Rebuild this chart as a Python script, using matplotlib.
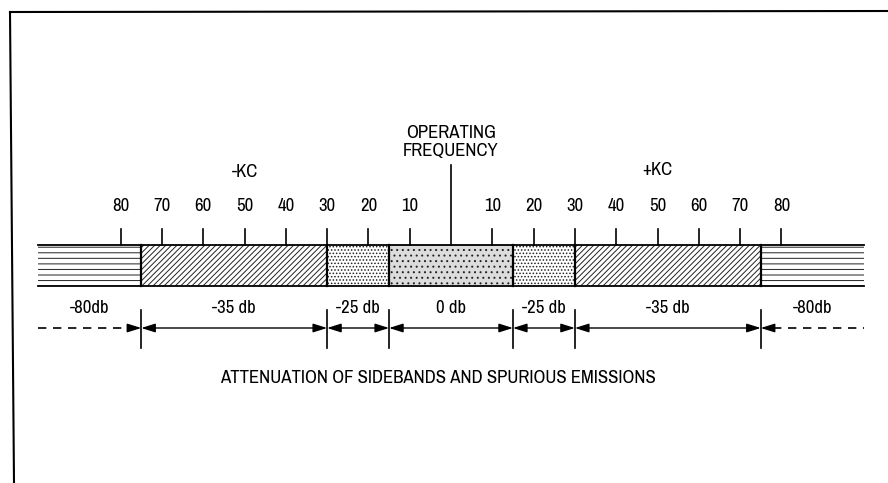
import matplotlib.pyplot as plt
from matplotlib.font_manager import fontManager

# data (kc from the operating frequency)
tick_kc = [-80, -70, -60, -50, -40, -30, -20, -10, 10, 20, 30, 40, 50, 60, 70, 80]
tick_labels = [str(abs(k)) for k in tick_kc]
band_edges = [-100, -75, -30, -15, 15, 30, 75, 100]
band_labels = ["-80db", "-35 db", "-25 db", "0 db", "-25 db", "-35 db", "-80db"]
band_hatch = ["---", "//////", ".....", "...", ".....", "//////", "---"]
band_face = ["white", "white", "white", "#dcdcdc", "white", "white", "white"]

# look for a condensed face, the original lettering is narrow
cond = sorted({(f.name, f.stretch) for f in fontManager.ttflist
               if "condensed" in str(f.stretch) or "Narrow" in f.name
               or "Condensed" in f.name})
if cond:
    family, stretch, fsize = [cond[0][0], "DejaVu Sans"], cond[0][1], 13.5
else:
    family, stretch, fsize = ["Liberation Sans", "DejaVu Sans"], "normal", 11
plt.rcParams["font.family"] = family
plt.rcParams["hatch.linewidth"] = 0.7
txt = dict(ha="center", va="center", fontsize=fsize, fontstretch=stretch)

# pixel layout: x = 451 + 4.13 * kc, y in pixels from top
PX = 4.13
X0 = 451
fig = plt.figure(figsize=(8.88, 4.83), dpi=100)
ax = fig.add_axes([0, 0, 1, 1])
ax.set_xlim(-X0 / PX, (888 - X0) / PX)
ax.set_ylim(483, 0)
ax.axis("off")

def kc(px):
    return (px - X0) / PX

# frame
ax.plot([kc(10), kc(888)], [12, 11], color="black", lw=1.5)
ax.plot([kc(10), kc(14)], [12, 483], color="black", lw=1.5)

# bands
ytop, ybot = 245, 286
for i, lab in enumerate(band_labels):
    a, b = band_edges[i], band_edges[i + 1]
    ax.fill_between([a, b], ytop, ybot, facecolor=band_face[i],
                    edgecolor="#222222", hatch=band_hatch[i], linewidth=0)
ax.plot([band_edges[0], band_edges[-1]], [ytop, ytop], color="black", lw=1.3)
ax.plot([band_edges[0], band_edges[-1]], [ybot, ybot], color="black", lw=1.3)
for e in band_edges[1:-1]:
    ax.plot([e, e], [ytop, ybot], color="black", lw=1.6)

# ticks and labels
for k, lab in zip(tick_kc, tick_labels):
    ax.plot([k, k], [229, ytop], color="black", lw=1.2)
    ax.text(k, 206, lab, **txt)
ax.plot([0, 0], [165, ytop], color="black", lw=1.2)
ax.text(0, 142, "OPERATING\nFREQUENCY", linespacing=1.15, **txt)
ax.text(-50, 172, "-KC", **txt)
ax.text(50, 170, "+KC", **txt)

# dimension line
ydim = 328
arrow = dict(arrowstyle="<|-|>,head_length=0.7,head_width=0.22", color="black",
             lw=1.0, shrinkA=0, shrinkB=0, mutation_scale=12)
half = dict(arrow, arrowstyle="-|>,head_length=0.7,head_width=0.22")
for i, lab in enumerate(band_labels):
    a, b = band_edges[i], band_edges[i + 1]
    ax.text((a + b) / 2, 308, lab, **txt)
    if i == 0:
        ax.plot([a, b - 3], [ydim, ydim], color="black", lw=1.2, ls=(0, (5, 4)))
        ax.annotate("", xy=(b, ydim), xytext=(b - 3, ydim), arrowprops=half)
    elif i == len(band_labels) - 1:
        ax.plot([a + 3, b], [ydim, ydim], color="black", lw=1.2, ls=(0, (5, 4)))
        ax.annotate("", xy=(a, ydim), xytext=(a + 3, ydim), arrowprops=half)
    else:
        ax.annotate("", xy=(a, ydim), xytext=(b, ydim), arrowprops=arrow)
for e in band_edges[1:-1]:
    ax.plot([e, e], [310, 348], color="black", lw=1.2)

ax.text(kc(438), 378, "ATTENUATION OF SIDEBANDS AND SPURIOUS EMISSIONS", **txt)

fig.savefig("out.png", dpi=100)
